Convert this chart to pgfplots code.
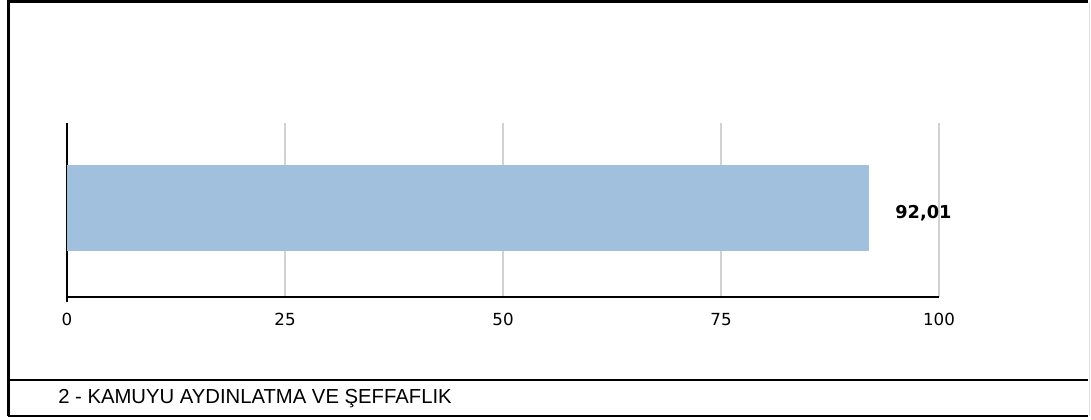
\documentclass[border=0pt]{standalone}
\usepackage{pgfplots}
\pgfplotsset{compat=1.18}
\usepackage{fontspec}
\setmainfont{Liberation Sans}
\newfontfamily\numfont{DejaVu Sans}
\definecolor{barblue}{RGB}{160,192,222}
\definecolor{gridgray}{RGB}{210,210,210}
\begin{document}
\begin{tikzpicture}[x=0.75pt,y=0.75pt]
\path[use as bounding box] (0,0) rectangle (1091,419);
\begin{axis}[
  at={(50.25pt,91.5pt)}, anchor=south west,
  scale only axis, width=654pt, height=130.5pt,
  xmin=0, xmax=100, ymin=0, ymax=1,
  xtick={0,25,50,75,100}, ytick=\empty,
  axis x line*=bottom, axis y line*=left,
  axis line style={-, black, line width=1.2pt},
  xmajorgrids, grid style={gridgray, line width=0.8pt},
  major tick length=0pt,
  xticklabel style={font=\numfont\fontsize{12.5}{14}\selectfont, yshift=-8.5pt},
  /pgf/number format/assume math mode=true,
  clip=false,
]
\addplot[xbar, bar width=64.5pt, fill=barblue, draw=none,
  nodes near coords, nodes near coords align={horizontal},
  /pgf/number format/use comma, /pgf/number format/fixed, /pgf/number format/precision=2, /pgf/number format/fixed zerofill,
  every node near coord/.append style={font=\numfont\bfseries\fontsize{13.3}{15}\selectfont, black, xshift=16pt, yshift=-4pt}
] coordinates {(92.01,0.511)};
\end{axis}
\draw[black, line width=1.2pt] (67,122) -- (67,117);
\draw[black, line width=2.2pt] (8.5,3) -- (8.5,417.5) -- (1088,417.5);
\draw[black, line width=2.2pt] (7.5,3) -- (1088,3);
\draw[black, line width=2.2pt] (8,39) -- (1088,39);
\draw[gridgray!70, line width=0.8pt] (1089.5,3) -- (1089.5,417.5);
\node[anchor=west, font=\fontsize{15.2}{17}\selectfont, inner sep=0pt] at (58,20) {2 - KAMUYU AYDINLATMA VE ŞEFFAFLIK};
\end{tikzpicture}
\end{document}
